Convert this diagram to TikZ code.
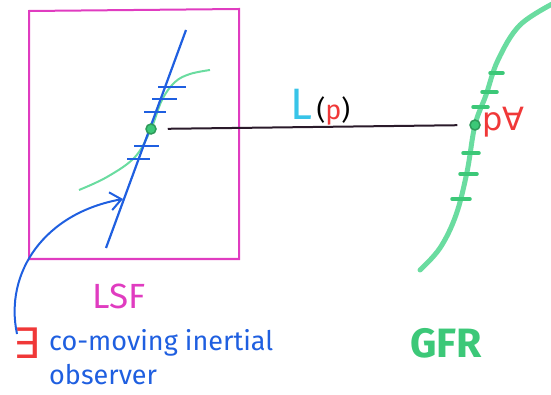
\documentclass[tikz,border=0pt]{standalone}
\usepackage{fontspec}
\setmainfont{Fira Sans}
\newfontfamily\dejavu{DejaVu Sans}
\usetikzlibrary{arrows.meta}
\definecolor{mag}{HTML}{E03CC0}
\definecolor{pblue}{HTML}{1F5FE0}
\definecolor{lgreen}{HTML}{6ADCA0}
\definecolor{mgreen}{HTML}{3CC878}
\definecolor{dgreen}{HTML}{2E9A5A}
\definecolor{pred}{HTML}{F03838}
\definecolor{pcyan}{HTML}{38C4E8}
\definecolor{pdark}{HTML}{2A1A2A}
\tikzset{
  tick/.style={pblue, line width=2.2pt},
  gtick/.style={mgreen, line width=3.5pt, line cap=round},
  wdot/.style={circle, draw=dgreen, fill=mgreen, inner sep=0pt, minimum size=10pt, line width=1.5pt},
  lbl/.style={inner sep=0pt, anchor=center}
}
\begin{document}
\begin{tikzpicture}[x=1pt,y=-1pt]
\useasboundingbox (0,0) rectangle (551,395);
% LSF box
\draw[mag, line width=2pt] (29,11) -- (239,9) -- (239,259) -- (29,259) -- cycle;
% green worldline inside LSF
\draw[lgreen, line width=2pt] plot[smooth, tension=0.6] coordinates {(79,190) (107,177) (135,157) (151,129) (162,100) (175,82) (190,74) (210,70)};
% blue inertial line
\draw[pblue, line width=2.2pt] (106,248) -- (186,30);
\foreach \a/\b/\y in {158/186/87, 152/177/99, 144/166/112, 134/159/146, 127/150/159}
  \draw[tick] (\a,\y) -- (\b,\y);
\node[wdot] (dotL) at (151,129) {};
% right worldline (GFR)
\draw[lgreen, line width=5pt, line cap=round] plot[smooth, tension=0.6] coordinates {(556,2) (520,25) (498,60) (486,95) (475,125) (467,172) (456,215) (440,248) (420,270)};
\foreach \a/\b/\y in {490/503/73, 482/497/92, 473/488/107, 463/479/153, 460/477/174, 452/470/199}
  \draw[gtick] (\a,\y) -- (\b,\y);
\node[wdot] (dotG) at (475,125) {};
% connecting line L(p)
\draw[pdark, line width=2pt, shorten <=11pt, shorten >=12pt] (dotL) -- (dotG);
\node[lbl, anchor=base west, font=\fontsize{44}{44}\selectfont, text=pcyan] (Lp) at (290,120) {L};
\node[lbl, anchor=base west, font=\fontsize{27}{27}\selectfont] (Lparen) at ([xshift=4pt]Lp.base east) {(\textcolor{pred}{p})};
% forall p
\node[lbl, anchor=base west, text=pred, font=\fontsize{32}{32}\selectfont\dejavu] (forall) at (482,131) {p∀};
% labels
\node[lbl, text=mag, font=\fontsize{35}{35}\selectfont] (LSF) at (119,296) {LSF};
\node[lbl, text=mgreen, font=\fontsize{41}{41}\selectfont\bfseries] (GFR) at (446,343) {GFR};
\node[lbl, anchor=base west, text=pred, font=\fontsize{42}{42}\selectfont\dejavu] (exists) at (13,358) {∃};
\node[lbl, anchor=base west, text=pblue, font=\fontsize{27}{27}\selectfont] (obs1) at (49,350) {co-moving inertial};
\node[lbl, anchor=base west, text=pblue, font=\fontsize{27}{27}\selectfont] (obs2) at (49,384) {observer};
% curved arrow
\coordinate (astart) at (17,334);
\coordinate (atip) at (123,199);
\draw[pblue, line width=2pt, -{Straight Barb[length=11pt,width=18pt]}] (astart) .. controls (4,272) and (45,213) .. (atip);
\end{tikzpicture}
\end{document}
